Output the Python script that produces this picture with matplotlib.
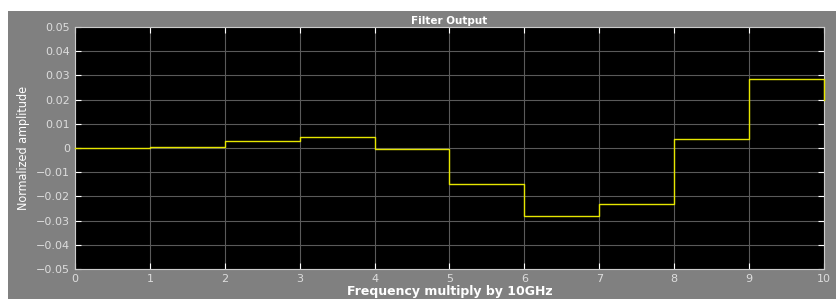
import matplotlib
matplotlib.use("Agg")
import matplotlib.pyplot as plt

# step values per frequency bin (x = 0..10), last entry is the end point at x=10
freq = [0, 1, 2, 3, 4, 5, 6, 7, 8, 9, 10, 10]
amplitude = [0.0, 0.0006, 0.0027, 0.0044, -0.0005, -0.0150, -0.0282, -0.0233, 0.0037, 0.0284, 0.0284, 0.0200]

xticks = list(range(0, 11))
yticks = [-0.05, -0.04, -0.03, -0.02, -0.01, 0, 0.01, 0.02, 0.03, 0.04, 0.05]
ytick_labels = ["\u22120.05", "\u22120.04", "\u22120.03", "\u22120.02", "\u22120.01", "0",
                "0.01", "0.02", "0.03", "0.04", "0.05"]

fig = plt.figure(figsize=(8.37, 2.99), dpi=100)
fig.patch.set_facecolor("white")
# gray panel behind the plot
panel = plt.Rectangle((8 / 837, 0), 1 - 8 / 837, 1 - 11 / 299,
                      transform=fig.transFigure, facecolor="#808080",
                      edgecolor="none", zorder=-10)
fig.add_artist(panel)

ax = fig.add_axes([75 / 837, 1 - 269 / 299, (824 - 75) / 837, (269 - 27) / 299])
ax.set_zorder(5)
ax.set_facecolor("black")
ax.step(freq, amplitude, where="post", color="#e6e600", lw=1.0, clip_on=False, zorder=5)

ax.set_xlim(0, 10)
ax.set_ylim(-0.05, 0.05)
ax.set_xticks(xticks)
ax.set_yticks(yticks)
ax.set_yticklabels(ytick_labels)
ax.grid(True, color="#5a5a5a", lw=0.8)
ax.tick_params(colors="#dddddd", labelsize=8, length=4, direction="in",
               top=True, right=True)
ax.tick_params(axis="both", which="both", color="white")
for s in ax.spines.values():
    s.set_color("#cccccc")
    s.set_linewidth(0.8)

ax.set_title("Filter Output", color="white", fontsize=7.5, fontweight="bold", pad=2)
ax.set_xlabel("Frequency multiply by 10GHz", color="white", fontsize=9,
              fontweight="bold", labelpad=1)
ax.set_ylabel("Normalized amplitude", color="white", fontsize=9,
              fontfamily="DejaVu Sans", fontstretch="condensed", labelpad=4)

plt.savefig("out.png", dpi=100)
